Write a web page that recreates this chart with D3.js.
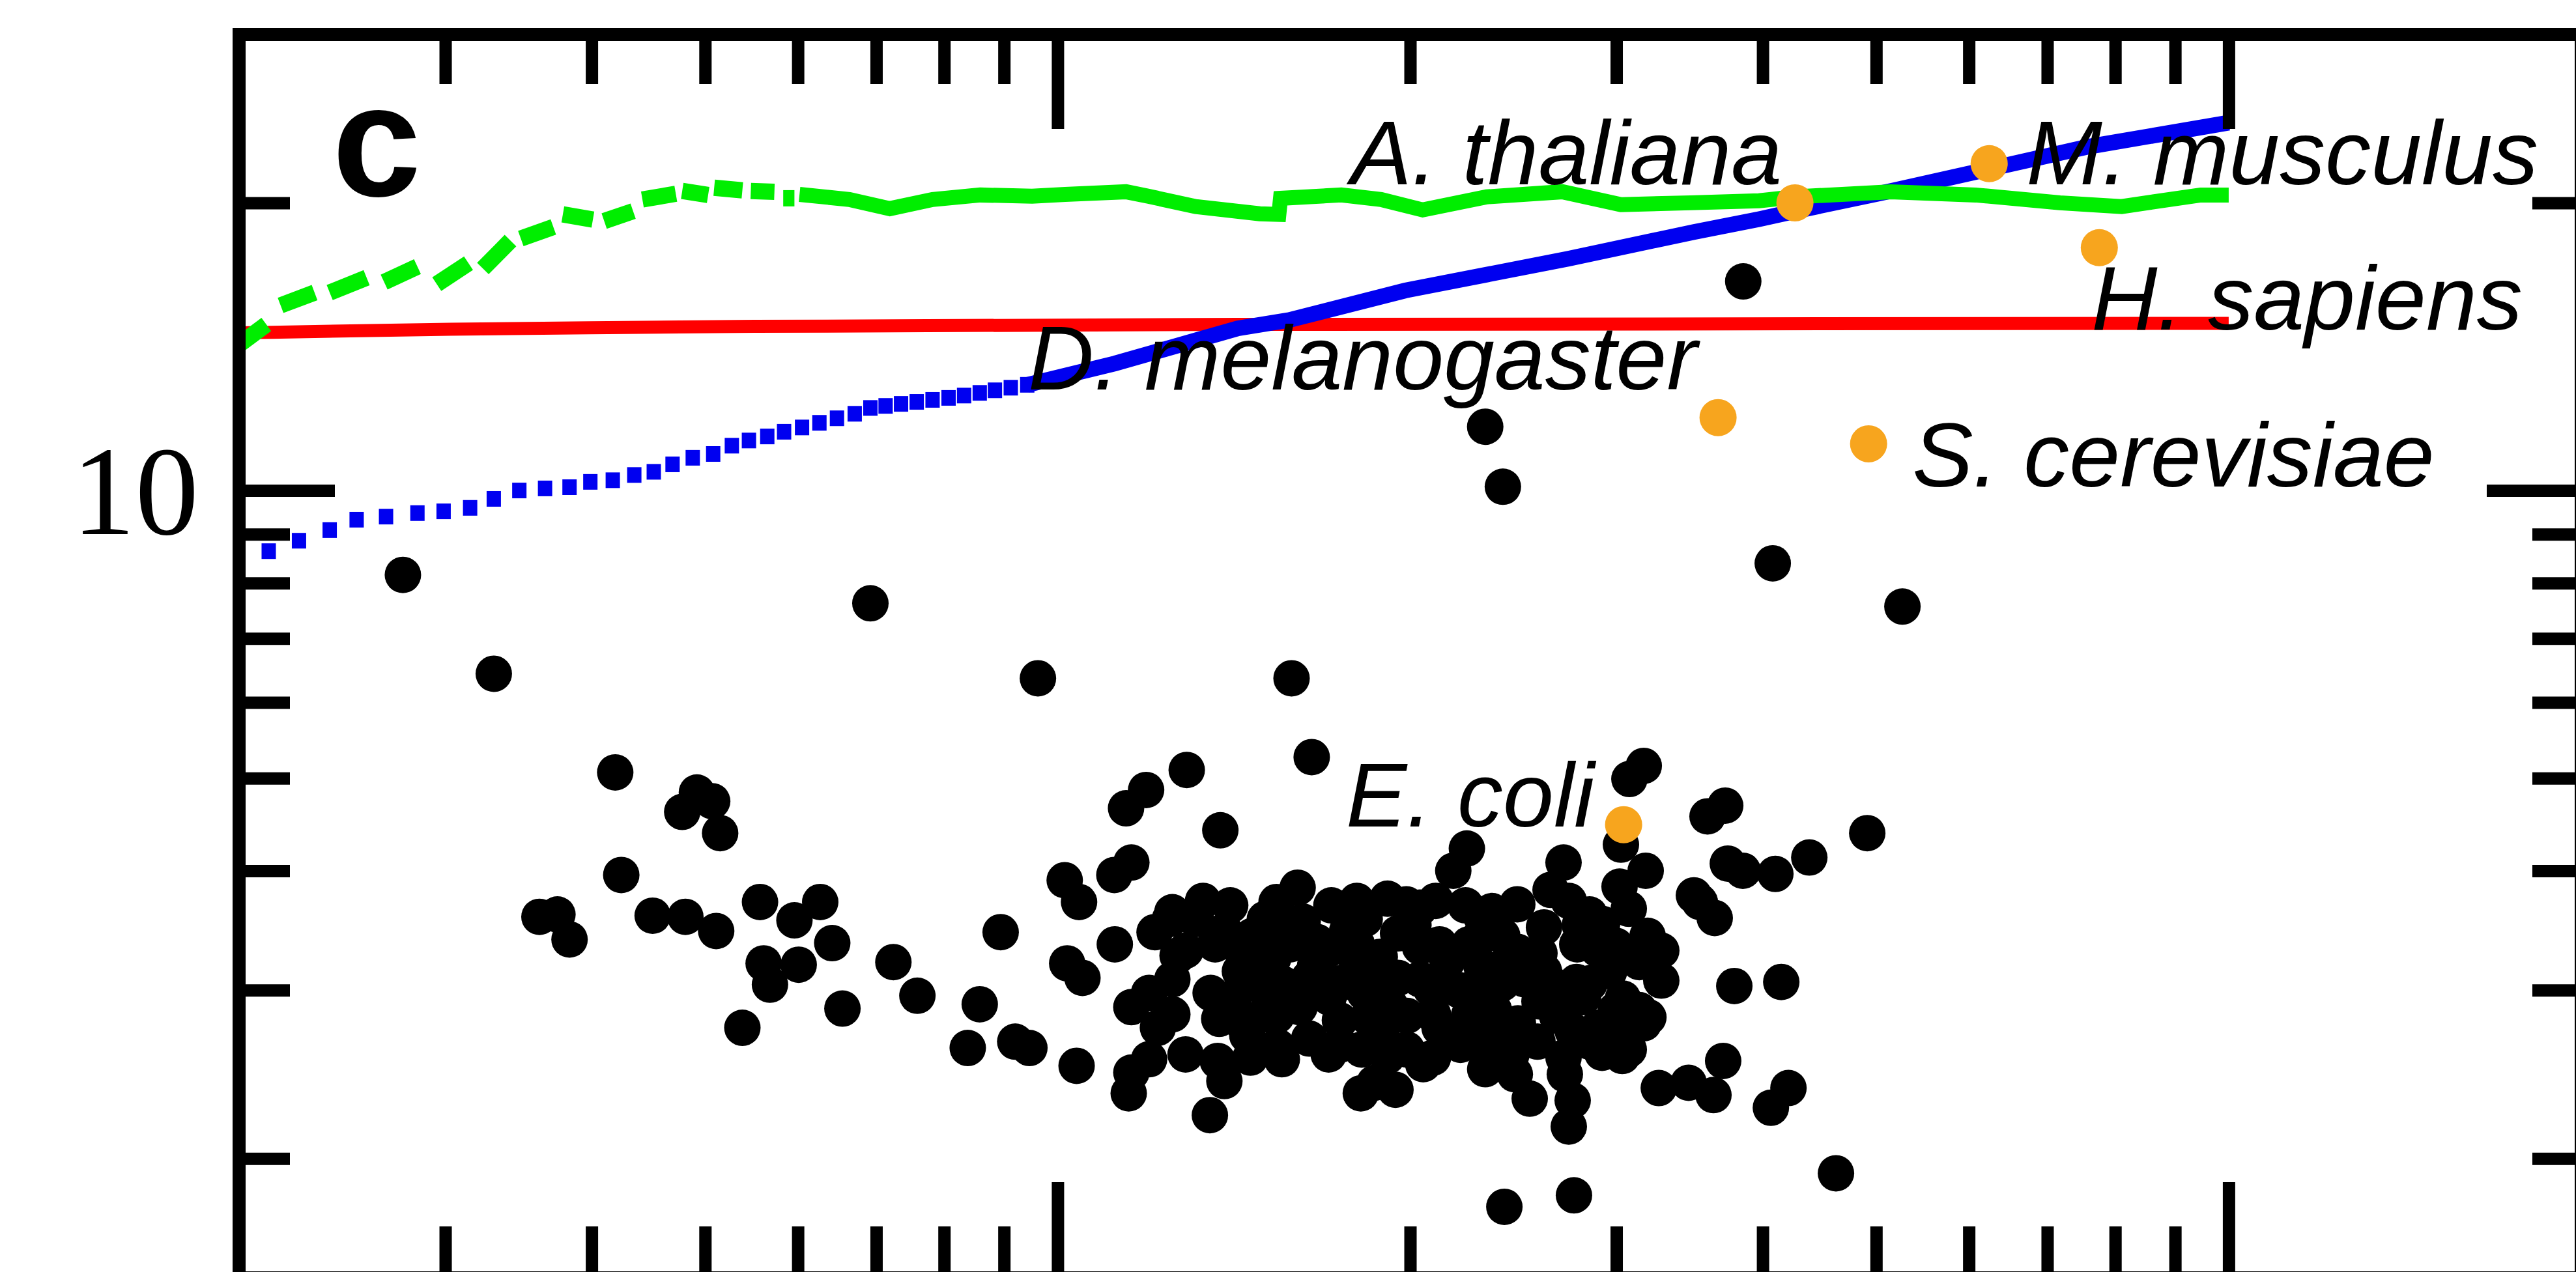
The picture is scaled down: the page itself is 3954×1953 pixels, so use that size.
<!DOCTYPE html>
<html>
<head>
<meta charset="utf-8">
<script src="https://d3js.org/d3.v7.min.js"></script>
<style>
  body { margin: 0; background: #fff; }
</style>
</head>
<body>
<div id="drawingfield"></div>
<script>

// the width and height of svg
var width = 3954;
var height = 1953;

// axis domains (log-log) and ticks
var xDomain = [200, 20000];
var yDomain = [1.5, 30];
var xMinorTicks = [300, 400, 500, 600, 700, 800, 900, 2000, 3000, 4000, 5000, 6000, 7000, 8000, 9000];
var xMajorTicks = [1000, 10000];
var yMinorTicks = [2, 3, 4, 5, 6, 7, 8, 9, 20];
var yMajorTicks = [10];
var yTickLabels = ["10"];

// red curve
var redX = [200, 213, 303, 398, 551, 1425, 10000];
var redY = [14.62, 14.64, 14.75, 14.80, 14.85, 14.92, 14.96];

// blue curve (markers, merging into a line at large x)
var blueX = [212, 225, 239, 252, 267, 284, 299, 315, 330, 347, 365, 383, 399, 417, 435, 452, 469, 488, 508, 527, 545,
             565, 584, 605, 626, 648, 671, 692, 713, 735, 758, 782, 807, 832, 858, 884, 912, 942,
             1119, 1425, 1577, 1981, 2729, 3494, 3972, 4264, 5147, 6248, 7581, 10000];
var blueY = [8.64, 8.86, 9.09, 9.32, 9.39, 9.47, 9.51, 9.59, 9.80, 10.0, 10.05, 10.08, 10.21, 10.25, 10.38, 10.46, 10.65, 10.82, 10.92, 11.14, 11.28,
             11.39, 11.52, 11.64, 11.77, 11.90, 12.03, 12.20, 12.26, 12.32, 12.38, 12.44, 12.50, 12.57, 12.65, 12.73, 12.81, 12.90,
             13.58, 14.78, 15.08, 16.19, 17.48, 18.64, 19.23, 19.60, 20.58, 21.70, 22.89, 24.26];
var blueSolidFrom = 942;

// green curve (first pairs of points are separate dashes)
var greenX = [200, 211, 217, 232, 239, 257, 266, 284, 295, 314, 323, 341, 348, 371, 378, 401, 410, 434, 442, 472, 478, 503, 509, 538, 547, 573, 583, 596,
              602, 664, 719, 782, 859, 951, 1015, 1144, 1195, 1312, 1488, 1545, 1550, 1747, 1889, 2050, 2325, 2698, 3027, 3472, 3972, 4264, 5147, 6081, 7175, 8102, 9464, 10000];
var greenY = [14.21, 14.92, 15.62, 16.11, 16.11, 16.70, 16.52, 17.15, 16.44, 17.29, 17.07, 18.26, 18.35, 18.87, 19.45, 19.21, 19.14, 19.60, 20.16, 20.44, 20.58, 20.38, 20.74, 20.61, 20.58, 20.54, 20.22, 20.22,
              20.41, 20.16, 19.72, 20.16, 20.38, 20.32, 20.41, 20.54, 20.32, 19.82, 19.48, 19.45, 20.22, 20.38, 20.16, 19.66, 20.29, 20.54, 19.91, 20.00, 20.10, 20.29, 20.54, 20.38, 20.00, 19.82, 20.38, 20.38];
var greenDashPairs = 14;

// black dots
var dotX = [276, 330, 692, 962, 1584, 1648, 2318, 2400, 3850, 4080, 5265,
            419, 492, 478, 507, 515, 424, 361, 374, 383, 451, 481, 511, 557, 596, 627, 642, 561, 568, 601, 538, 655, 724, 759,
            1289, 1144, 1190, 1377, 894, 858, 838, 920, 946, 1038, 1014, 1043, 1019, 1050, 1118, 1156, 1119, 1210, 1312, 1404, 1603,
            1156, 1156, 1197, 1150, 1370, 1388, 1349, 1218, 1540, 1865, 1943, 2318, 2530, 2732, 2760, 2407,
            3261, 3458, 3701, 3631, 4208, 4065, 3783, 4149, 4620, 3166, 3078, 3027, 3716, 3589, 2236, 2177, 2704, 3735, 3847,
            3178, 3019, 2469, 2732, 3494, 3640, 3535, 4101, 4384, 4913,
            1801, 1985, 2103, 2301, 2917, 3190, 3138, 3039, 3138, 2778, 2579, 2498, 2711, 2894, 2917, 2753, 2711, 2753,
            2208, 2119, 2358, 2301, 2084, 1923, 1742, 1742, 1815, 1503, 1374, 1351, 1266, 1363, 1467, 1580, 1659, 1801,
            1953, 2119, 1953, 1742, 1554, 1431, 1197, 1554, 1891, 2052, 2416, 2457, 2989, 3166, 2397, 2245, 1829, 1713,
            1503, 1331, 1247, 2602, 2894, 2846, 2579, 2397, 1801, 1528,
            1388, 1476, 1568, 1665, 1767, 1884, 2013, 2152, 2289, 2435, 2602, 2792, 2958,
            1415, 1499, 1609, 1704, 1829, 1987, 2202, 2245, 2472, 2636, 2810, 2996,
            1452, 1640, 1818, 1987, 2289, 2569, 2846, 3074,
            1619, 3074, 1913, 2230, 2636, 1538,
            1253, 2039, 2349, 2846,
            1286, 1424, 1704, 2039, 2472, 2996, 3277,
            1253, 1461, 1640, 1865, 2039, 2289, 2504, 2774, 3277,
            1253, 1424, 1538, 1841, 2092, 2379, 2670, 3195,
            1286, 1461, 1704, 1913, 2092, 2441, 2704, 3035];
var dotY = [8.16, 6.43, 7.62, 6.36, 6.36, 5.26, 11.66, 10.09, 16.55, 8.39, 7.56,
            5.07, 4.83, 4.61, 4.73, 4.38, 3.96, 3.58, 3.60, 3.39, 3.59, 3.58, 3.46, 3.71, 3.55, 3.71, 3.36, 3.20, 3.04, 3.19, 2.74, 2.87, 3.21, 2.96,
            5.10, 4.65, 4.86, 4.41, 3.45, 2.90, 2.61, 2.65, 2.61, 2.50, 3.91, 3.71, 3.20, 3.09, 3.96, 4.08, 3.35, 3.45, 3.56, 3.68, 3.84,
            2.88, 2.46, 2.54, 2.34, 2.53, 2.41, 2.22, 2.74, 2.62, 2.40, 2.36, 2.48, 2.31, 2.16, 1.83, 1.78,
            2.37, 2.40, 2.53, 2.33, 2.37, 2.26, 3.03, 3.06, 1.93, 5.15, 4.99, 4.26, 4.68, 4.56, 4.22, 4.00, 4.08, 4.07, 4.00,
            4.00, 3.85, 3.69, 3.72, 3.77, 3.57, 3.71, 3.97, 4.13, 4.38,
            3.72, 3.69, 3.72, 3.58, 3.52, 3.42, 3.21, 2.94, 2.86, 3.35, 3.28, 3.18, 2.89, 2.74, 2.58, 2.72, 2.45, 2.30,
            2.63, 2.74, 2.86, 3.18, 3.01, 2.89, 2.79, 2.63, 2.34, 2.83, 2.80, 2.98, 3.26, 3.35, 3.42, 3.35, 3.18, 3.35,
            3.44, 3.35, 3.09, 3.05, 3.05, 3.14, 2.98, 2.54, 2.69, 2.51, 2.65, 2.45, 2.72, 2.77, 3.42, 3.35, 3.56, 3.68,
            3.56, 3.72, 3.56, 3.49, 3.31, 3.05, 2.92, 3.05, 3.21, 3.24,
            3.46, 3.24, 3.44, 3.37, 3.46, 3.25, 3.51, 3.22, 3.40, 3.24, 3.14, 3.51, 3.14,
            2.95, 3.02, 2.88, 2.95, 2.98, 2.82, 3.00, 2.82, 2.77, 3.05, 2.95, 2.86,
            2.69, 2.67, 2.60, 2.60, 2.65, 2.65, 2.65, 2.60,
            3.54, 3.65, 3.74, 3.68, 3.82, 3.71,
            3.62, 3.66, 3.63, 3.60,
            3.30, 3.34, 3.31, 3.33, 3.29, 3.34, 3.30,
            3.08, 3.05, 3.09, 3.06, 3.08, 3.05, 3.08, 3.06, 3.07,
            2.83, 2.80, 2.82, 2.81, 2.83, 2.80, 2.82, 2.81,
            2.57, 2.55, 2.57, 2.56, 2.55, 2.57, 2.55, 2.56];

// labelled organisms (orange dots)
var orgNames = ["E. coli", "S. cerevisiae", "D. melanogaster", "A. thaliana", "M. musculus", "H. sapiens"];
var orgX = [3043, 4926, 3664, 4262, 6244, 7754];
var orgY = [4.47, 11.19, 11.92, 20.0, 21.98, 17.95];

// where each organism label sits relative to its dot
var labelPlace = [
    {dx: -45, dy: 3, anchor: "end"},
    {dx: 67, dy: 66, anchor: "start"},
    {dx: -32, dy: -43, anchor: "end"},
    {dx: -20, dy: -28, anchor: "end"},
    {dx: 57, dy: 32, anchor: "start"},
    {dx: -12, dy: 126, anchor: "start"}
];

// plot frame
var frameLeft = 367, frameRight = 3962, frameTop = 53, frameBottom = 1962;

var x = d3.scaleLog().domain(xDomain).range([frameLeft, frameRight]);
var y = d3.scaleLog().domain(yDomain).range([frameBottom, frameTop]);

var svg = d3.select("#drawingfield")
    .append("svg")
    .attr("width", width)
    .attr("height", height)
    .style("display", "block");

svg.append("rect").attr("width", width).attr("height", height).attr("fill", "#fff");

svg.append("clipPath").attr("id", "plotclip")
    .append("rect")
    .attr("x", frameLeft).attr("y", frameTop)
    .attr("width", frameRight - frameLeft).attr("height", frameBottom - frameTop);

var plot = svg.append("g").attr("clip-path", "url(#plotclip)");

var line = d3.line()
    .x(function(d){ return x(d[0]); })
    .y(function(d){ return y(d[1]); });

//red line
plot.append("path")
    .datum(d3.zip(redX, redY))
    .attr("d", line)
    .attr("fill", "none")
    .attr("stroke", "#ff0000")
    .attr("stroke-width", 20);

//blue: squares where points are apart, thick line where they merge
var blue = d3.zip(blueX, blueY);
plot.selectAll(".bsq")
    .data(blue.filter(function(d){ return d[0] <= blueSolidFrom; }))
    .enter()
    .append("rect")
    .attr("class", "bsq")
    .attr("x", function(d){ return x(d[0]) - 11; })
    .attr("y", function(d){ return y(d[1]) - 12; })
    .attr("width", 22)
    .attr("height", 24)
    .attr("fill", "#0000f0");
plot.append("path")
    .datum(blue.filter(function(d){ return d[0] >= blueSolidFrom; }))
    .attr("d", line)
    .attr("fill", "none")
    .attr("stroke", "#0000f0")
    .attr("stroke-width", 24);

//green: dashes then a solid line
var green = d3.zip(greenX, greenY);
var dashes = d3.range(greenDashPairs).map(function(i){ return [green[2 * i], green[2 * i + 1]]; });
plot.selectAll(".gdash")
    .data(dashes)
    .enter()
    .append("path")
    .attr("class", "gdash")
    .attr("d", line)
    .attr("fill", "none")
    .attr("stroke", "#00ee00")
    .attr("stroke-width", 25);
plot.append("path")
    .datum(green.slice(2 * greenDashPairs))
    .attr("d", line)
    .attr("fill", "none")
    .attr("stroke", "#00ee00")
    .attr("stroke-width", 23);

//black dots
plot.selectAll(".dot")
    .data(d3.zip(dotX, dotY))
    .enter()
    .append("circle")
    .attr("class", "dot")
    .attr("cx", function(d){ return x(d[0]); })
    .attr("cy", function(d){ return y(d[1]); })
    .attr("r", 28)
    .attr("fill", "#000");

//orange dots and names
var orgs = d3.range(orgNames.length).map(function(i){
    return {name: orgNames[i], x: orgX[i], y: orgY[i], place: labelPlace[i]};
});
plot.selectAll(".org")
    .data(orgs)
    .enter()
    .append("circle")
    .attr("class", "org")
    .attr("cx", function(d){ return x(d.x); })
    .attr("cy", function(d){ return y(d.y); })
    .attr("r", 28.5)
    .attr("fill", "#f7a51e");

svg.selectAll(".orgname")
    .data(orgs)
    .enter()
    .append("text")
    .attr("class", "orgname")
    .attr("x", function(d){ return x(d.x) + d.place.dx; })
    .attr("y", function(d){ return y(d.y) + d.place.dy; })
    .attr("text-anchor", function(d){ return d.place.anchor; })
    .attr("font-family", "'Liberation Sans', Arial, Helvetica, sans-serif")
    .attr("font-style", "italic")
    .attr("font-size", 140)
    .attr("fill", "#000")
    .text(function(d){ return d.name; });

//ticks, pointing inward, from the four sides
function ticks(axis, pos, values, size) {
    var g = svg.append("g")
        .attr("transform", pos)
        .call(axis.tickValues(values).tickSize(-size).tickFormat(""));
    g.select(".domain").remove();
    g.selectAll("line").attr("stroke", "#000").attr("stroke-width", 19);
    return g;
}
ticks(d3.axisBottom(x), "translate(0," + frameBottom + ")", xMinorTicks, 79);
ticks(d3.axisBottom(x), "translate(0," + frameBottom + ")", xMajorTicks, 147);
ticks(d3.axisTop(x), "translate(0," + frameTop + ")", xMinorTicks, 76);
ticks(d3.axisTop(x), "translate(0," + frameTop + ")", xMajorTicks, 145);
ticks(d3.axisLeft(y), "translate(" + frameLeft + ",0)", yMinorTicks, 78);
ticks(d3.axisRight(y), "translate(" + frameRight + ",0)", yMinorTicks, 75);
ticks(d3.axisRight(y), "translate(" + frameRight + ",0)", yMajorTicks, 145);

var yl = svg.append("g")
    .attr("transform", "translate(" + frameLeft + ",0)")
    .call(d3.axisLeft(y).tickValues(yMajorTicks).tickSize(-147).tickPadding(62)
        .tickFormat(function(d, i){ return yTickLabels[i]; }));
yl.select(".domain").remove();
yl.selectAll("line").attr("stroke", "#000").attr("stroke-width", 19);
yl.selectAll("text")
    .attr("font-family", "'Liberation Serif', 'Times New Roman', serif")
    .attr("font-size", 195)
    .attr("dy", "0.34em")
    .attr("fill", "#000");

//frame
svg.append("rect")
    .attr("x", frameLeft).attr("y", frameTop)
    .attr("width", frameRight - frameLeft).attr("height", frameBottom - frameTop)
    .attr("fill", "none")
    .attr("stroke", "#000")
    .attr("stroke-width", 20);

//panel letter
svg.append("text")
    .attr("x", 510)
    .attr("y", 301)
    .attr("font-family", "'Liberation Sans', Arial, Helvetica, sans-serif")
    .attr("font-weight", "bold")
    .attr("font-size", 245)
    .text("c");

</script>
</body>
</html>
